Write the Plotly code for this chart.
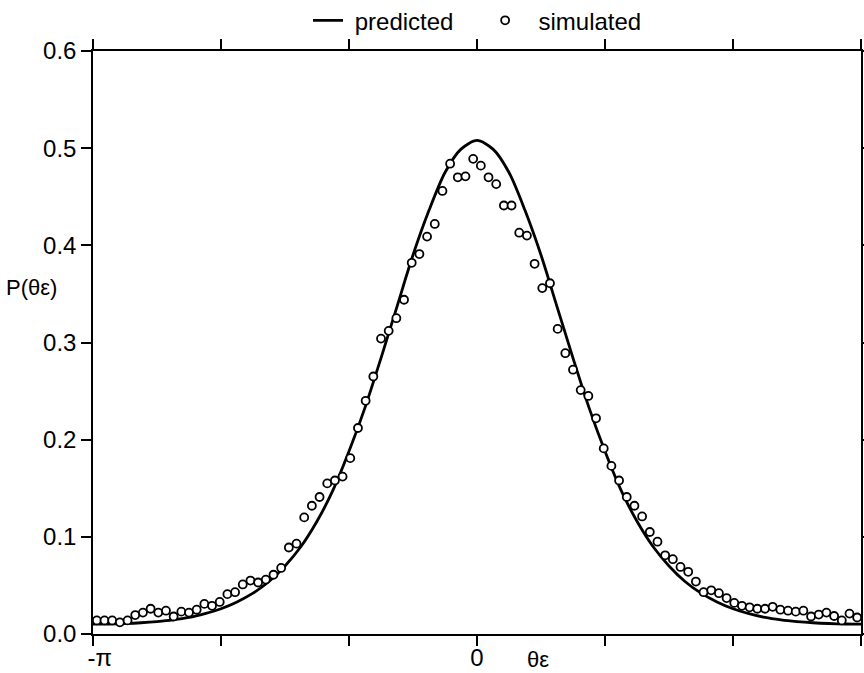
import numpy as np
import plotly.graph_objects as go

# Predicted curve, read at theta = k*pi/24, k = 0..24 (curve is symmetric)
pred_half = [0.508, 0.499, 0.475, 0.436, 0.390, 0.337, 0.284, 0.233, 0.188,
             0.148, 0.116, 0.090, 0.070, 0.054, 0.042, 0.033, 0.026, 0.021,
             0.017, 0.0145, 0.0128, 0.0116, 0.0108, 0.0103, 0.0101]
pred_k = list(range(-24, 25))
pred_vals = pred_half[::-1] + pred_half[1:]

# Simulated histogram values (100 bins across -pi..pi)
sim_vals = [
    0.014, 0.014, 0.014, 0.012, 0.014, 0.0195, 0.022, 0.026, 0.022, 0.024,
    0.018, 0.023, 0.022, 0.025, 0.031, 0.029, 0.033, 0.041, 0.043, 0.051,
    0.055, 0.053, 0.056, 0.061, 0.068, 0.089, 0.093, 0.120, 0.132, 0.141,
    0.155, 0.158, 0.162, 0.181, 0.212, 0.240, 0.265, 0.304, 0.312, 0.325,
    0.344, 0.382, 0.391, 0.409, 0.422, 0.456, 0.484, 0.470, 0.471, 0.489,
    0.482, 0.470, 0.463, 0.441, 0.441, 0.413, 0.410, 0.381, 0.356, 0.361,
    0.314, 0.289, 0.272, 0.251, 0.245, 0.222, 0.191, 0.173, 0.158, 0.141,
    0.132, 0.121, 0.105, 0.095, 0.081, 0.077, 0.069, 0.064, 0.054, 0.043,
    0.045, 0.042, 0.037, 0.032, 0.029, 0.0275, 0.026, 0.026, 0.028, 0.025,
    0.024, 0.023, 0.024, 0.018, 0.020, 0.022, 0.0185, 0.014, 0.021, 0.017,
]

x_tick_vals_k = [-3, -2, -1, 0, 1, 2, 3]   # multiples of pi/3
x_tick_text = ["\u00a0\u00a0-π", "", "", "0", "", "", "π\u00a0\u00a0"]
y_tick_vals = [0.0, 0.1, 0.2, 0.3, 0.4, 0.5, 0.6]
y_tick_text = ["0.0", "0.1", "0.2", "0.3", "0.4", "0.5", "0.6"]

pred_x = [k * np.pi / 24 for k in pred_k]
n = len(sim_vals)
sim_x = [-np.pi + (i + 0.5) * 2 * np.pi / n for i in range(n)]

FONT = "Liberation Sans, Arial, Helvetica, sans-serif"
FS = 24
NB = "\u00a0"

fig = go.Figure()
fig.add_trace(go.Scatter(
    x=pred_x, y=pred_vals, mode="lines", name=NB + "predicted" + NB * 4,
    line=dict(color="black", width=2.8, shape="spline", smoothing=0.8),
))
fig.add_trace(go.Scatter(
    x=sim_x, y=sim_vals, mode="markers", name=NB * 2 + "simulated",
    marker=dict(symbol="circle", size=8, color="white",
                line=dict(color="black", width=1.8)),
))

fig.update_layout(
    width=864, height=673,
    margin=dict(l=93, r=3, t=51, b=39, autoexpand=False),
    paper_bgcolor="white", plot_bgcolor="white",
    font=dict(family=FONT, size=FS, color="black"),
    showlegend=True,
    legend=dict(orientation="h", x=0.28, y=1.052, xanchor="left",
                yanchor="middle", font=dict(size=FS), itemwidth=30,
                bgcolor="rgba(0,0,0,0)", traceorder="normal"),
    xaxis=dict(
        range=[-np.pi, np.pi],
        tickvals=[k * np.pi / 3 for k in x_tick_vals_k],
        ticktext=x_tick_text,
        ticks="outside", ticklen=10, tickwidth=1.5, tickcolor="black",
        showline=True, linecolor="black", linewidth=1.5,
        mirror="allticks", showgrid=False, zeroline=False,
        tickfont=dict(size=FS), automargin=False, ticklabelstandoff=-9,
    ),
    yaxis=dict(
        range=[0, 0.6],
        tickvals=y_tick_vals, ticktext=y_tick_text,
        ticks="outside", ticklen=10, tickwidth=1.5, tickcolor="black",
        showline=True, linecolor="black", linewidth=1.5,
        mirror="allticks", showgrid=False, zeroline=False,
        tickfont=dict(size=FS), automargin=False,
    ),
    annotations=[
        dict(text="θε", xref="x", yref="paper", x=0.5, y=-0.044,
             xanchor="center", yanchor="middle", showarrow=False,
             font=dict(size=22)),
        dict(text="P(θε)", xref="paper", yref="y", x=-0.116, y=0.357,
             xanchor="left", yanchor="middle", showarrow=False,
             font=dict(size=22)),
    ],
)

fig.write_html("out.html", config={"displayModeBar": False},
               post_script="document.body.style.margin='0px';")
